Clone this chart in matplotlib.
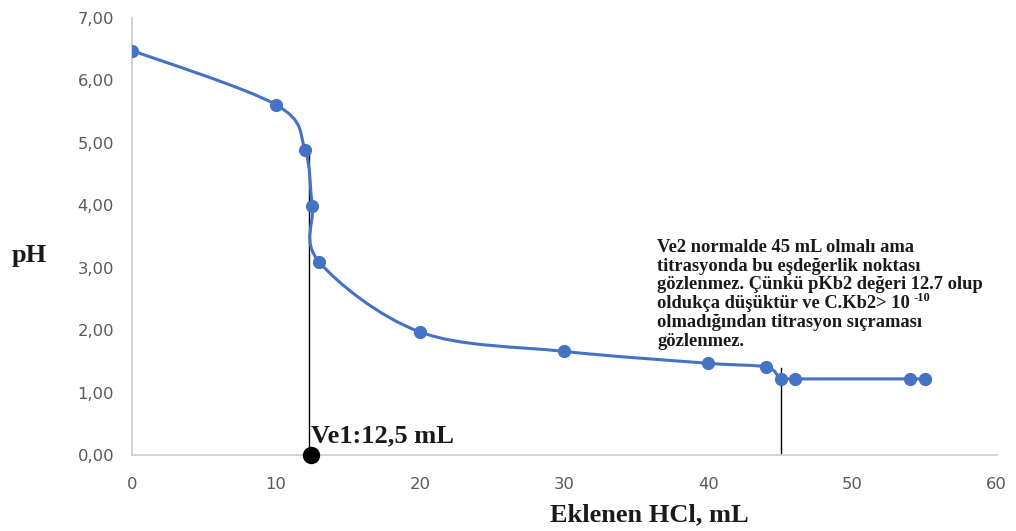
import matplotlib
matplotlib.use("Agg")
import matplotlib.pyplot as plt
import numpy as np
from matplotlib.path import Path
from matplotlib.patches import PathPatch
from matplotlib.ticker import FuncFormatter

# Data
hcl_ml = [0, 10, 12, 12.5, 13, 20, 30, 40, 44, 45, 46, 54, 55]
ph = [6.48, 5.61, 4.89, 3.99, 3.09, 1.97, 1.66, 1.47, 1.41, 1.22, 1.22, 1.22, 1.22]
ve1_x = 12.3
ve1_top = 4.89
ve2_x = 45
ve2_top = 1.40
ve1_label = "Ve1:12,5 mL"
x_ticks = [0, 10, 20, 30, 40, 50, 60]
y_ticks = [0, 1, 2, 3, 4, 5, 6, 7]
note_lines = [
    "Ve2 normalde 45 mL olmalı ama",
    "titrasyonda bu eşdeğerlik noktası",
    "gözlenmez. Çünkü pKb2 değeri 12.7 olup",
    "oldukça düşüktür ve C.Kb2> 10",
    "olmadığından titrasyon sıçraması",
    "gözlenmez.",
]
note_sup_line = 3
note_sup = "-10"

blue = "#4472C4"
dark = "#1a1a1a"
fig = plt.figure(figsize=(10.16, 5.31), dpi=100)
ax = fig.add_axes([0.130, 0.143, 0.851, 0.823])
ax.set_xlim(0, 60)
ax.set_ylim(0, 7)

# Smooth (Excel-like Catmull-Rom) curve through the data points
x = np.array(hcl_ml, float)
y = np.array(ph, float)
verts = [(x[0], y[0])]
codes = [Path.MOVETO]
n = len(x)
for i in range(n - 1):
    p0 = np.array([x[max(i - 1, 0)], y[max(i - 1, 0)]])
    p1 = np.array([x[i], y[i]])
    p2 = np.array([x[i + 1], y[i + 1]])
    p3 = np.array([x[min(i + 2, n - 1)], y[min(i + 2, n - 1)]])
    c1 = p1 + (p2 - p0) / 6.0
    c2 = p2 - (p3 - p1) / 6.0
    verts += [tuple(c1), tuple(c2), tuple(p2)]
    codes += [Path.CURVE4] * 3
ax.add_patch(PathPatch(Path(verts, codes), facecolor="none", edgecolor=blue, lw=2.2, zorder=3))
ax.plot(hcl_ml, ph, linestyle="none", marker="o", ms=8.5, color=blue, zorder=4)

# Vertical marker lines
ax.plot([ve1_x, ve1_x], [0, ve1_top], color="black", lw=1.0, zorder=2)
ax.plot([ve2_x, ve2_x], [0, ve2_top], color="black", lw=1.0, zorder=2)
ax.plot([12.4], [0], marker="o", ms=11.5, color="black", clip_on=False, zorder=5)
ax.text(12.45, 0.2, ve1_label, fontfamily="Liberation Serif", fontweight="bold",
        fontsize=19, ha="left", va="baseline", color=dark)

note_x = 657 / 1016
note_y0 = 1 - 252 / 531
note_step = 18.7 / 531
note_texts = []
for i, line in enumerate(note_lines):
    t = fig.text(note_x, note_y0 - i * note_step, line, fontfamily="Liberation Serif",
                 fontweight="bold", fontsize=13.3, ha="left", va="baseline", color=dark)
    note_texts.append(t)

fig.canvas.draw()
bb = note_texts[note_sup_line].get_window_extent(fig.canvas.get_renderer())
sup_x = (bb.x1 + 4) / fig.bbox.width
sup_y = note_y0 - note_sup_line * note_step + 7 / 531
fig.text(sup_x, sup_y, note_sup, fontfamily="Liberation Serif", fontweight="bold",
         fontsize=9, ha="left", va="baseline", color=dark)

ax.set_xticks(x_ticks)
ax.set_yticks(y_ticks)
ax.yaxis.set_major_formatter(FuncFormatter(lambda v, p: f"{v:.2f}".replace(".", ",")))
ax.tick_params(length=0, labelsize=11.8, labelcolor="#595959")
ax.tick_params(axis="x", pad=16)
ax.tick_params(axis="y", pad=13)
for s in ["top", "right"]:
    ax.spines[s].set_visible(False)
for s in ["left", "bottom"]:
    ax.spines[s].set_color("#d0d0d0")
    ax.spines[s].set_linewidth(1.3)

fig.text(29 / 1016, 1 - 256 / 531, "pH", fontfamily="Liberation Serif", fontweight="bold",
         fontsize=19, ha="center", va="center", color=dark)
fig.text(649 / 1016, 1 - 515 / 531, "Eklenen HCl, mL", fontfamily="Liberation Serif",
         fontweight="bold", fontsize=19, ha="center", va="center", color=dark)

fig.savefig("out.png", dpi=100)
